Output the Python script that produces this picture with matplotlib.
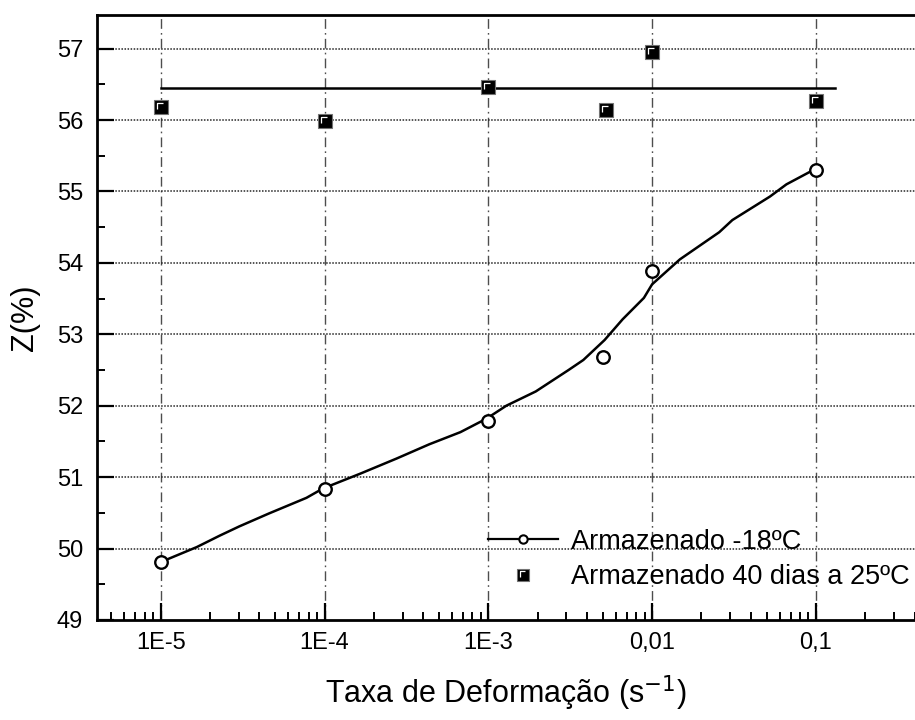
import numpy as np
import matplotlib
matplotlib.use("Agg")
import matplotlib.pyplot as plt
from matplotlib.path import Path
from matplotlib.legend_handler import HandlerTuple
from matplotlib.ticker import FixedLocator, LogLocator, MultipleLocator, NullFormatter

plt.rcParams['font.family'] = ['Liberation Sans', 'DejaVu Sans']

# Stored at -18 C (circles) and its fitted curve
rate_cold = [1e-5, 1e-4, 1e-3, 5e-3, 1e-2, 1e-1]
z_cold = [49.81, 50.84, 51.78, 52.68, 53.88, 55.30]
curve_logx = [-5.0, -4.78, -4.64, -4.52, -4.34, -4.11, -4.01, -3.78, -3.56, -3.36,
              -3.17, -3.01, -2.89, -2.71, -2.51, -2.42, -2.29, -2.18, -2.05, -2.0,
              -1.83, -1.59, -1.51, -1.28, -1.18, -1.0]
curve_z = [49.81, 50.02, 50.18, 50.31, 50.49, 50.71, 50.84, 51.05, 51.26, 51.46,
           51.63, 51.82, 52.0, 52.2, 52.5, 52.64, 52.92, 53.21, 53.51, 53.7,
           54.05, 54.43, 54.6, 54.93, 55.1, 55.32]

# Stored 40 days at 25 C (squares) and its mean line
rate_warm = [1e-5, 1e-4, 1e-3, 5.2e-3, 1e-2, 1e-1]
z_warm = [56.18, 55.99, 56.47, 56.14, 56.95, 56.27]
fit_rate = [1e-5, 0.13]
fit_z = [56.45, 56.45]

xticks = [1e-5, 1e-4, 1e-3, 1e-2, 1e-1]
xticklabels = ['1E-5', '1E-4', '1E-3', '0,01', '0,1']

# white corner highlight drawn inside the square markers
corner = Path([(-1, -1), (1, 1), (-0.55, -0.3), (-0.55, 0.6), (0.35, 0.6)],
              [Path.MOVETO, Path.MOVETO, Path.MOVETO, Path.LINETO, Path.LINETO])

fig = plt.figure(figsize=(9.15, 7.2), dpi=100)
ax = fig.add_axes([0.106, 0.139, 0.894, 0.840])

ax.set_xscale('log')
ax.set_xlim(10**-5.389, 10**-0.395)
ax.set_ylim(49, 57.47)

# grid
for xv in xticks:
    ax.axvline(xv, color='0.3', lw=1.0, ls=(0, (7, 3, 1.2, 3)), zorder=1)
for yv in range(50, 58):
    ax.axhline(yv, color='0.15', lw=1.1, ls=(0, (1, 1)), zorder=1)

ax.plot([10**c for c in curve_logx], curve_z, color='black', lw=1.8, zorder=3)
ax.plot(rate_cold, z_cold, ls='none', marker='o', ms=9, mfc='white', mec='black',
        mew=1.7, zorder=4)
ax.plot(fit_rate, fit_z, color='black', lw=1.8, zorder=3)
ax.plot(rate_warm, z_warm, ls='none', marker='s', ms=9.5, mfc='black', mec='0.45',
        mew=0.8, zorder=4)
ax.plot(rate_warm, z_warm, ls='none', marker=corner, ms=9.5, mfc='none', mec='white',
        mew=0.9, zorder=5)

# legend handles
h1, = ax.plot([], [], color='black', lw=1.6, marker='o', ms=6, mfc='white',
              mec='black', mew=1.5)
h2, = ax.plot([], [], ls='none', marker='s', ms=8.5, mfc='black', mec='0.45', mew=0.8)
h2c, = ax.plot([], [], ls='none', marker=corner, ms=8.5, mfc='none', mec='white', mew=0.9)
ax.legend([h1, (h2, h2c)], ['Armazenado -18ºC', 'Armazenado 40 dias a 25ºC'],
          handler_map={tuple: HandlerTuple(ndivide=1, pad=0)},
          loc='upper left', bbox_to_anchor=(0.478, 0.151), frameon=False,
          fontsize=19.5, handlelength=2.6, handletextpad=0.45, labelspacing=0.35,
          borderpad=0, borderaxespad=0)

# ticks
ax.xaxis.set_major_locator(FixedLocator(xticks))
ax.set_xticklabels(xticklabels)
ax.xaxis.set_minor_locator(LogLocator(base=10, subs=np.arange(2, 10)))
ax.xaxis.set_minor_formatter(NullFormatter())
ax.yaxis.set_major_locator(MultipleLocator(1))
ax.yaxis.set_minor_locator(MultipleLocator(0.5))
ax.tick_params(which='major', direction='in', length=12, width=1.6, labelsize=17,
               top=False, right=False)
ax.tick_params(which='minor', direction='in', length=6, width=1.4, top=False, right=False)
ax.tick_params(axis='x', which='major', pad=9)
ax.tick_params(axis='y', which='major', pad=10)

for side in ['left', 'bottom', 'top']:
    ax.spines[side].set_linewidth(2.0)
ax.spines['right'].set_visible(False)

ax.set_xlabel('Taxa de Deformação (s$^{-1}$)', fontsize=22, labelpad=14)
ax.set_ylabel('Z(%)', fontsize=22, labelpad=12)

fig.savefig('out.png', dpi=100)
